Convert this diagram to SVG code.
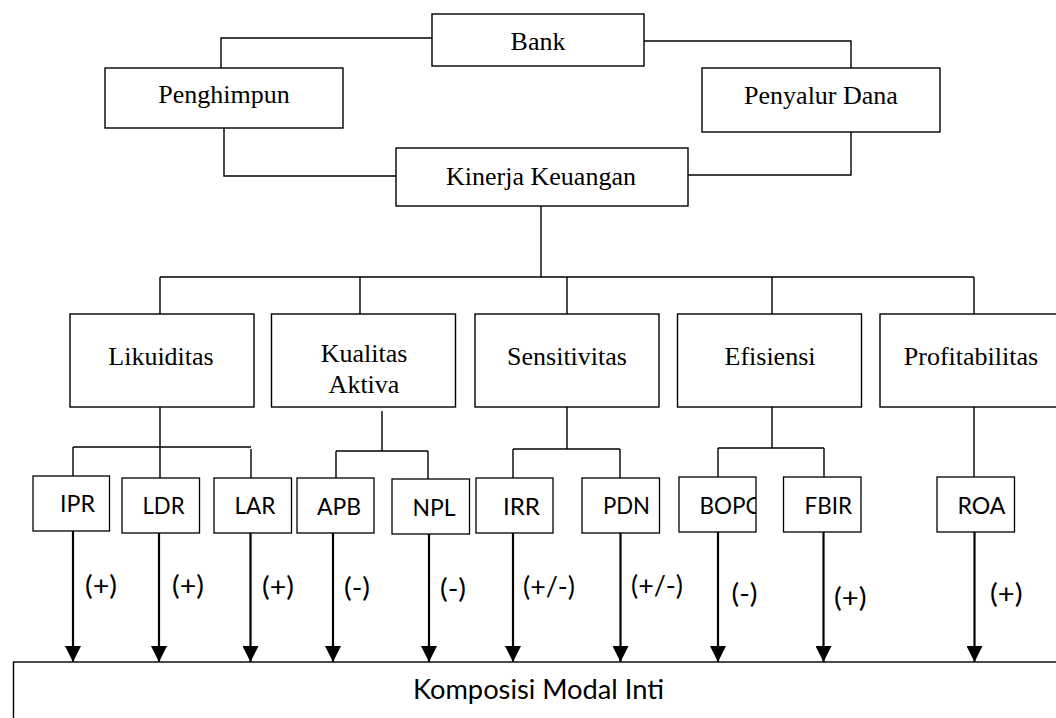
<svg xmlns="http://www.w3.org/2000/svg" width="1056" height="718" viewBox="0 0 1056 718">
<defs>
<style>
.box{fill:#fff;stroke:#000;stroke-width:1.4}
.sbox{fill:#fff;stroke:#000;stroke-width:1.3}
.ln{fill:none;stroke:#000;stroke-width:1.4}
.ar{fill:none;stroke:#000;stroke-width:2.2}
.serif{font-family:"Liberation Serif","Times New Roman",serif;font-size:26px;fill:#000;text-anchor:middle}
.sans{font-family:Lato,"Liberation Sans",sans-serif;font-size:23px;fill:#000}
.lbl{font-family:Lato,"Liberation Sans",sans-serif;font-size:27px;fill:#000}
.big{font-family:Lato,"Liberation Sans",sans-serif;font-size:26px;fill:#000}
</style>
<marker id="ah" markerUnits="userSpaceOnUse" markerWidth="16" markerHeight="16" refX="16" refY="8" orient="auto" viewBox="0 0 16 16">
<path d="M0,0 L16,8 L0,16 z" fill="#000"/>
</marker>
<clipPath id="clipBopo"><rect x="679" y="477" width="77" height="55"/></clipPath>
</defs>
<rect width="1056" height="718" fill="#fff"/>

<g id="connectors">
<path class="ln" d="M432,38 H221 V68"/>
<path class="ln" d="M644,41 H851 V68"/>
<path class="ln" d="M224,128 V176 H396"/>
<path class="ln" d="M851,132 V175 H688"/>
<path class="ln" d="M541,206 V277"/>
<path class="ln" d="M160,277 H974"/>
<path class="ln" d="M160,277 V314 M360,277 V314 M567,277 V314 M772,277 V314 M974,277 V314"/>
<path class="ln" d="M160,407 V447 M73,447 H251 M73,447 V476 M160,447 V478 M251,449 V478"/>
<path class="ln" d="M382,411 V451 M336,451 H428 M336,451 V478 M428,451 V479"/>
<path class="ln" d="M567,407 V449 M513,449 H620 M513,449 V478 M620,449 V478"/>
<path class="ln" d="M772,407 V448 M718,448 H824 M718,448 V477 M824,448 V477"/>
<path class="ln" d="M974,407 V477"/>
<path class="ar" d="M73,531 V662" marker-end="url(#ah)"/>
<path class="ar" d="M159,533 V662" marker-end="url(#ah)"/>
<path class="ar" d="M250.5,533 V662" marker-end="url(#ah)"/>
<path class="ar" d="M333,533 V662" marker-end="url(#ah)"/>
<path class="ar" d="M429,534 V662" marker-end="url(#ah)"/>
<path class="ar" d="M513,533 V662" marker-end="url(#ah)"/>
<path class="ar" d="M620.5,533 V662" marker-end="url(#ah)"/>
<path class="ar" d="M718,532 V662" marker-end="url(#ah)"/>
<path class="ar" d="M823.5,532 V662" marker-end="url(#ah)"/>
<path class="ar" d="M974.5,532 V662" marker-end="url(#ah)"/>
<text class="lbl" x="85" y="595" textLength="32" lengthAdjust="spacingAndGlyphs">(+)</text>
<text class="lbl" x="172" y="595" textLength="32" lengthAdjust="spacingAndGlyphs">(+)</text>
<text class="lbl" x="262" y="596" textLength="32" lengthAdjust="spacingAndGlyphs">(+)</text>
<text class="lbl" x="344" y="597" textLength="26" lengthAdjust="spacingAndGlyphs">(-)</text>
<text class="lbl" x="440" y="598" textLength="26" lengthAdjust="spacingAndGlyphs">(-)</text>
<text class="lbl" x="523" y="596" textLength="52" lengthAdjust="spacingAndGlyphs">(+/-)</text>
<text class="lbl" x="631" y="595" textLength="52" lengthAdjust="spacingAndGlyphs">(+/-)</text>
<text class="lbl" x="731.5" y="603" textLength="26" lengthAdjust="spacingAndGlyphs">(-)</text>
<text class="lbl" x="834" y="607" textLength="32.5" lengthAdjust="spacingAndGlyphs">(+)</text>
<text class="lbl" x="990" y="603" textLength="32.5" lengthAdjust="spacingAndGlyphs">(+)</text>
</g>

<g id="bank"><rect class="box" x="432" y="14" width="212" height="52"/><text class="serif" x="538" y="50">Bank</text></g>
<g id="penghimpun"><rect class="box" x="105" y="68" width="238" height="60"/><text class="serif" x="224" y="103">Penghimpun</text></g>
<g id="penyalur"><rect class="box" x="702" y="68" width="238" height="64"/><text class="serif" x="821" y="104">Penyalur Dana</text></g>
<g id="kinerja"><rect class="box" x="396" y="148" width="292" height="58"/><text class="serif" x="541" y="185">Kinerja Keuangan</text></g>

<g id="likuiditas"><rect class="box" x="70" y="314" width="184" height="93"/><text class="serif" x="161" y="365">Likuiditas</text></g>
<g id="kualitas"><rect class="box" x="271.5" y="314" width="184" height="93"/><text class="serif" x="364" y="362">Kualitas</text><text class="serif" x="364" y="393">Aktiva</text></g>
<g id="sensitivitas"><rect class="box" x="475" y="314" width="184" height="93"/><text class="serif" x="567" y="365">Sensitivitas</text></g>
<g id="efisiensi"><rect class="box" x="677.5" y="314" width="184" height="93"/><text class="serif" x="770" y="365">Efisiensi</text></g>
<g id="profitabilitas"><rect class="box" x="880" y="314" width="190" height="93"/><text class="serif" x="971" y="365">Profitabilitas</text></g>

<g id="ipr"><rect class="sbox" x="33" y="476" width="76.5" height="55"/><text class="sans" x="60" y="512" textLength="35" lengthAdjust="spacingAndGlyphs">IPR</text></g>
<g id="ldr"><rect class="sbox" x="122" y="478" width="77.5" height="55"/><text class="sans" x="142.5" y="514" textLength="42" lengthAdjust="spacingAndGlyphs">LDR</text></g>
<g id="lar"><rect class="sbox" x="214" y="478" width="77.5" height="55"/><text class="sans" x="234.5" y="514" textLength="41" lengthAdjust="spacingAndGlyphs">LAR</text></g>
<g id="apb"><rect class="sbox" x="297" y="478" width="77" height="55"/><text class="sans" x="317" y="515" textLength="44" lengthAdjust="spacingAndGlyphs">APB</text></g>
<g id="npl"><rect class="sbox" x="392" y="479" width="77.5" height="55"/><text class="sans" x="412.5" y="516" textLength="43" lengthAdjust="spacingAndGlyphs">NPL</text></g>
<g id="irr"><rect class="sbox" x="476" y="478" width="77" height="55"/><text class="sans" x="503" y="515" textLength="37" lengthAdjust="spacingAndGlyphs">IRR</text></g>
<g id="pdn"><rect class="sbox" x="582" y="478" width="77.5" height="55"/><text class="sans" x="603" y="514" textLength="47" lengthAdjust="spacingAndGlyphs">PDN</text></g>
<g id="bopo"><rect class="sbox" x="679" y="477" width="77" height="55"/><text class="sans" x="699.5" y="514" textLength="64" lengthAdjust="spacingAndGlyphs" clip-path="url(#clipBopo)">BOPO</text></g>
<g id="fbir"><rect class="sbox" x="783.5" y="477" width="77.5" height="55"/><text class="sans" x="804.5" y="514" textLength="47.5" lengthAdjust="spacingAndGlyphs">FBIR</text></g>
<g id="roa"><rect class="sbox" x="937" y="477" width="77.5" height="55"/><text class="sans" x="957.5" y="514" textLength="48" lengthAdjust="spacingAndGlyphs">ROA</text></g>

<g id="komposisi"><rect class="box" x="13.5" y="662" width="1060" height="80"/><text class="big" x="413" y="699" textLength="251" lengthAdjust="spacingAndGlyphs">Komposisi Modal Inti</text></g>
</svg>
